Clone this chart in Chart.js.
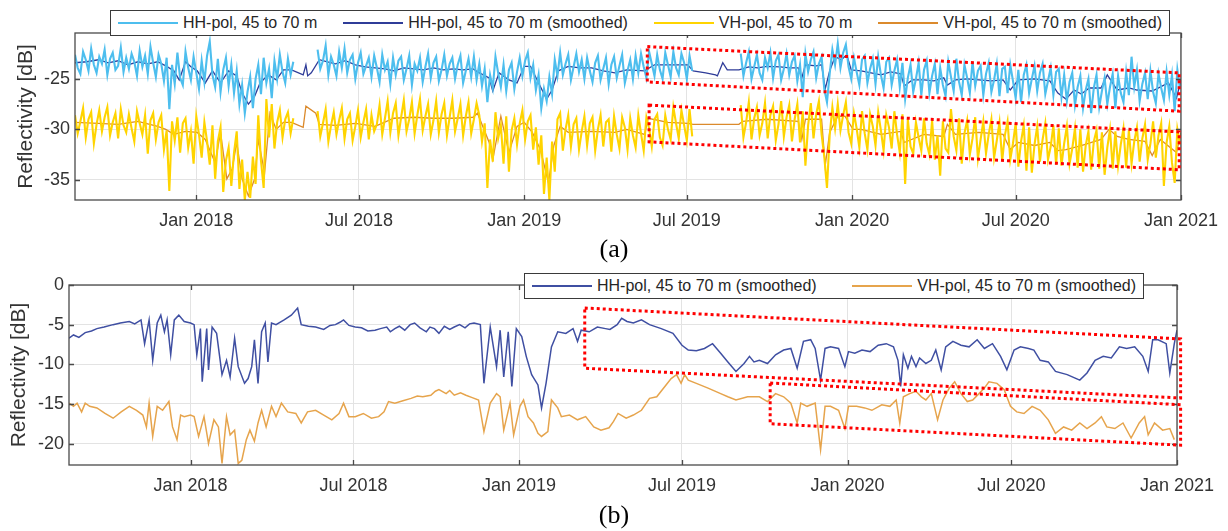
<!DOCTYPE html>
<html><head><meta charset="utf-8">
<script src="https://cdn.jsdelivr.net/npm/chart.js@4.4.1/dist/chart.umd.min.js"></script>
<style>
html,body{margin:0;padding:0;background:#fff;}
#wrap{position:relative;width:1228px;height:531px;overflow:hidden;font-family:"Liberation Sans",Arial,sans-serif;}
canvas{position:absolute;left:0;}
#ca{top:0;}
#cb{top:250px;}
.legend{position:absolute;display:flex;align-items:center;justify-content:space-between;border:1.3px solid #3a3a3a;background:#fff;box-sizing:border-box;padding:0 7px;font-size:16px;color:#262626;white-space:nowrap;}
.item{display:flex;align-items:center;}
.sw{display:inline-block;width:60px;height:2px;margin-right:5px;}
.cap{position:absolute;font-family:"Liberation Serif","Times New Roman",serif;font-size:26px;color:#000;transform:translate(-50%,-50%);}
</style>
</head>
<body>
<div id="wrap">
<canvas id="ca" width="1228" height="250"></canvas>
<canvas id="cb" width="1228" height="281"></canvas>
<div class="legend" id="lega" style="left:110px;top:10px;width:1060px;height:26px;"></div>
<div class="legend" id="legb" style="left:524px;top:273px;width:620px;height:26px;"></div>
<div class="cap" style="left:614px;top:249px;">(a)</div>
<div class="cap" style="left:614px;top:515px;">(b)</div>
</div>
<script>
// ---------- axis definitions (days since 1 Jan 2018) ----------
const dayMin = -135, dayMax = 1096;
const xTickDays = [0, 181, 365, 546, 730, 912, 1096];
const xTickLabels = ['Jan 2018', 'Jul 2018', 'Jan 2019', 'Jul 2019', 'Jan 2020', 'Jul 2020', 'Jan 2021'];
const yTicksA = [-35, -30, -25];
const yTicksB = [-20, -15, -10, -5, 0];
const seriesNamesA = ['HH-pol, 45 to 70 m', 'HH-pol, 45 to 70 m (smoothed)', 'VH-pol, 45 to 70 m', 'VH-pol, 45 to 70 m (smoothed)'];
const seriesNamesB = ['HH-pol, 45 to 70 m (smoothed)', 'VH-pol, 45 to 70 m (smoothed)'];

// ---------- panel (a) raw series: one sample every 3 days from day -135 ----------
const rawStartDay = -135, rawStepDays = 3;
const hhRawA = [
-22.6,-23.9,-24.5,-22.3,-23.1,-24.2,-22.0,-23.6,-24.4,-22.8,
-23.5,-22.1,-24.6,-23.0,-22.4,-24.1,-23.7,-21.9,-24.3,-22.9,
-24.0,-22.5,-23.3,-24.7,-22.2,-23.8,-22.7,-24.5,-21.8,-23.4,
-24.8,-22.6,-23.5,-25.2,-22.9,-28.0,-23.6,-25.5,-22.4,-24.9,
-25.6,-22.3,-23.9,-25.1,-22.8,-24.4,-26.0,-23.2,-25.3,-22.7,
-21.3,-24.6,-25.8,-23.0,-26.3,-24.1,-22.9,-25.7,-23.6,-26.4,
-24.2,-27.5,-25.6,-28.4,-26.3,-24.8,-27.9,-25.0,-23.6,-26.5,
-22.9,-25.4,-24.0,-26.9,-23.2,-25.0,-22.6,-24.3,-25.4,-23.0,
-24.6,-23.3,
null,null,null,null,null,null,null,null,
-22.1,-24.0,-23.2,-21.7,-24.6,-22.8,-23.6,-24.7,-22.3,-23.9,
-22.0,-24.4,-23.1,-22.6,-25.0,-23.4,-22.4,-24.5,-23.7,-22.9,
-24.8,-22.7,-23.9,-25.3,-22.6,-24.1,-23.3,-25.5,-22.9,-24.6,
-23.2,-22.8,-25.1,-24.0,-22.7,-25.6,-23.5,-24.2,-22.9,-25.3,
-23.8,-22.5,-24.9,-23.4,-22.8,-25.2,-24.1,-22.6,-24.7,-23.5,
-22.9,-25.0,-23.6,-22.7,-25.4,-24.2,-23.0,-24.8,-22.8,-25.1,
-23.5,-25.7,-24.0,-27.3,-24.6,-25.9,-22.8,-24.4,-25.8,-23.6,
-26.2,-24.1,-23.4,-26.0,-24.3,-22.9,-24.7,-23.2,-22.4,-24.9,
-23.6,-26.1,-24.6,-27.9,-26.0,-27.2,-24.8,-26.5,-23.1,-24.7,
-22.4,-24.6,-23.5,-22.6,-25.1,-23.8,-22.5,-24.3,-23.1,-25.0,
-22.9,-24.2,-25.3,-23.4,-22.7,-25.1,-24.0,-22.9,-25.5,-23.6,
-22.8,-24.9,-23.7,-22.6,-25.4,-24.2,-23.1,-25.0,-22.7,-24.4,
-22.5,-23.8,-24.9,-22.3,-23.5,-24.7,-22.6,-24.1,-25.0,-22.4,
-23.6,-24.8,-22.3,-23.9,-24.6,-22.5,-23.4,-25.0,-22.7,-24.2,
null,null,null,null,null,null,null,null,null,null,null,null,null,null,null,null,null,
-22.5,-24.7,-23.4,-22.3,-25.0,-23.8,-22.6,-24.4,-25.1,-22.9,
-23.9,-22.4,-24.9,-23.2,-22.6,-25.1,-24.0,-22.5,-24.6,-23.3,
-22.7,-25.2,-23.6,-26.8,-22.5,-24.3,-23.1,-22.3,-24.9,-23.5,
-22.8,-26.0,-27.3,-24.5,-22.1,-23.6,-21.5,-23.9,-22.4,-21.6,
-23.8,-25.0,-22.9,-24.3,-25.6,-23.1,-22.7,-25.4,-24.0,-23.0,
-25.5,-22.8,-24.6,-25.9,-23.3,-22.9,-25.6,-24.2,-23.1,-25.8,
-23.4,-27.0,-24.9,-23.6,-26.3,-25.0,-23.4,-26.6,-24.1,-23.2,
-26.4,-24.7,-23.5,-26.5,-23.9,-25.6,-26.7,-23.3,-24.8,-26.2,
-23.0,-25.3,-26.6,-23.6,-24.9,-26.4,-23.3,-25.7,-24.2,-23.7,
-26.6,-24.5,-23.4,-26.3,-25.1,-23.5,-26.7,-24.0,-23.8,-26.4,
-23.6,-25.2,-26.9,-24.1,-27.3,-24.6,-23.6,-26.4,-25.0,-23.7,
-26.2,-24.4,-23.5,-26.5,-25.2,-23.9,-26.6,-24.3,-24.0,-26.8,
-24.6,-27.2,-25.3,-24.4,-27.6,-25.8,-24.7,-27.9,-26.1,-25.0,
-28.4,-25.9,-24.6,-27.8,-26.2,-24.9,-27.5,-25.8,-24.5,-27.9,
-24.7,-26.4,-27.3,-24.3,-26.6,-22.8,-25.8,-24.1,-27.2,-25.5,
-24.4,-27.0,-24.2,-26.3,-27.4,-24.5,-25.9,-27.1,-24.3,-26.6,
-24.6,-28.2,-24.1,-26.0
];
const vhRawA = [
-28.6,-30.4,-29.2,-27.9,-30.8,-29.0,-28.3,-31.4,-29.5,-28.1,
-30.2,-28.8,-27.8,-30.6,-29.3,-28.4,-30.9,-28.0,-29.6,-30.3,
-28.5,-29.9,-31.2,-28.2,-29.4,-30.5,-28.6,-32.4,-29.1,-28.4,
-31.0,-29.3,-28.6,-32.0,-30.1,-36.1,-29.2,-31.1,-28.8,-32.3,
-29.4,-28.9,-31.8,-30.2,-33.4,-28.7,-30.5,-32.8,-29.3,-31.2,
-33.5,-29.6,-34.9,-31.2,-29.8,-36.2,-33.1,-31.8,-35.6,-32.3,
-30.2,-35.9,-33.0,-37.0,-34.2,-36.8,-32.7,-35.4,-28.6,-33.1,
-35.8,-27.0,-30.8,-27.5,-31.9,-29.3,-28.1,-30.8,-29.0,-28.3,
-30.4,-28.9,
null,null,null,null,null,null,null,null,
-28.2,-30.7,-29.4,-28.0,-31.2,-29.6,-28.3,-30.5,-29.1,-27.9,
-30.9,-29.0,-28.4,-31.1,-29.7,-28.1,-30.8,-29.3,-28.0,-31.0,
-28.6,-30.2,-29.5,-27.6,-30.5,-28.9,-27.2,-30.3,-28.4,-27.4,
-30.6,-28.8,-27.1,-30.2,-29.0,-27.3,-30.4,-28.6,-27.0,-30.1,
-28.7,-27.5,-30.5,-29.1,-27.2,-30.3,-28.5,-27.4,-30.6,-28.8,
-27.1,-30.2,-28.9,-27.5,-30.6,-28.7,-27.3,-30.4,-29.0,-27.4,
-28.6,-31.2,-29.4,-35.8,-31.0,-33.2,-28.3,-30.9,-29.6,-33.4,
-28.7,-34.2,-30.1,-28.9,-31.5,-29.4,-28.1,-31.0,-29.2,-28.6,
-32.0,-29.8,-33.5,-30.6,-36.4,-32.8,-37.0,-31.2,-34.2,-29.0,
-28.4,-32.1,-30.0,-28.6,-31.7,-29.5,-28.9,-32.0,-30.2,-28.7,
-31.6,-29.4,-28.8,-32.1,-30.0,-28.6,-31.7,-29.3,-29.0,-32.2,
-28.7,-30.5,-31.9,-28.8,-29.8,-32.0,-28.9,-30.6,-31.8,-28.6,
-30.4,-32.1,-28.8,-29.9,-31.7,-29.0,-28.5,-30.8,-31.6,-28.6,
-30.0,-31.0,-27.8,-29.4,-30.9,-28.1,-29.6,-31.1,-28.0,-30.7,
null,null,null,null,null,null,null,null,null,null,null,null,null,null,null,null,null,
-27.6,-30.8,-29.3,-27.3,-31.0,-28.9,-27.8,-30.6,-29.4,-27.4,
-30.9,-28.6,-27.7,-31.1,-29.5,-27.2,-30.7,-28.8,-27.6,-31.2,
-29.0,-27.5,-31.3,-28.2,-33.6,-29.6,-27.4,-30.9,-28.5,-27.2,
-30.5,-32.7,-35.8,-30.6,-27.8,-29.9,-27.5,-30.1,-28.6,-27.3,
-30.3,-31.4,-28.4,-29.9,-31.8,-28.2,-30.4,-32.0,-28.5,-29.7,
-31.6,-28.3,-30.1,-32.1,-28.6,-29.8,-31.9,-28.2,-30.5,-32.3,
-28.5,-35.4,-29.0,-31.7,-32.4,-29.3,-30.8,-32.1,-28.9,-31.4,
-32.5,-29.1,-33.0,-30.6,-34.6,-29.2,-31.9,-32.3,-28.0,-30.7,
-32.1,-28.9,-33.4,-30.4,-29.1,-32.5,-30.9,-28.8,-32.9,-31.0,
-29.2,-32.4,-30.5,-29.0,-32.8,-31.1,-29.3,-33.1,-30.6,-29.2,
-33.0,-31.4,-29.4,-33.7,-31.2,-29.6,-34.1,-29.8,-34.3,-31.5,
-29.7,-33.2,-31.0,-29.4,-33.0,-31.7,-29.6,-33.5,-29.9,-33.6,
-31.4,-29.7,-33.4,-31.9,-29.9,-33.8,-30.0,-34.2,-31.6,-30.2,
-34.0,-31.2,-30.1,-33.9,-30.3,-34.5,-31.8,-30.0,-33.9,-30.2,
-33.6,-31.5,-29.9,-33.8,-30.1,-33.4,-31.2,-29.8,-33.2,-30.9,
-29.5,-33.0,-31.4,-29.2,-32.8,-30.6,-29.4,-35.6,-31.3,-29.7,
-33.3,-35.3,-30.0,-31.5
];

// ---------- panel (a) smoothed series ----------
const hhSmoothDaysA = [-135,-122,-109,-98,-87,-76,-65,-54,-43,-34,-25,-19,-12,-6,1,10,18,27,36,45,51,58,65,71,80,89,97,106,119,122,124,128,137,146,155,166,177,188,199,210,220,231,242,253,264,275,286,297,308,313,326,330,337,348,357,365,372,381,390,396,403,414,427,440,453,466,479,499,510,525,547,553,567,578,580,586,591,604,615,625,635,650,660,670,674,678,690,696,700,705,711,718,724,729,740,751,762,773,784,788,797,810,821,832,836,845,858,871,885,898,906,915,933,950,959,968,977,985,994,1007,1014,1025,1038,1047,1064,1082,1091,1096];
const hhSmoothA = [-23.4,-23.3,-23.1,-23.4,-23.2,-23.6,-23.3,-23.5,-23.3,-23.7,-24.2,-25.1,-23.3,-23.8,-24.2,-25.4,-24.2,-25.4,-24.2,-24.7,-26.4,-27.5,-26.7,-25.4,-24.6,-25.1,-24.1,-24.1,-24.6,-23.6,-24.7,-24.4,-23.1,-23.3,-23.5,-23.2,-23.6,-23.8,-23.9,-24.0,-24.2,-23.9,-24.0,-24.1,-23.9,-24.1,-24.0,-24.1,-24.0,-24.3,-24.9,-26.2,-24.4,-25.1,-25.4,-23.75,-23.75,-25.4,-27.0,-26.1,-24.2,-23.75,-23.9,-23.9,-24.2,-24.4,-24.1,-24.2,-23.6,-23.6,-23.6,-24.2,-24.4,-24.6,-24.7,-23.4,-24.1,-24.1,-23.8,-23.9,-23.75,-23.8,-23.9,-23.9,-24.9,-23.6,-23.7,-23.6,-26.0,-24.2,-22.8,-23.1,-22.6,-24.1,-24.2,-24.4,-24.6,-24.3,-24.5,-25.7,-25.1,-25.1,-25.2,-24.9,-25.6,-25.1,-25.0,-25.1,-25.2,-25.1,-26.1,-25.1,-25.0,-25.2,-26.4,-27.0,-26.1,-26.5,-25.9,-25.9,-24.6,-26.1,-25.9,-26.1,-26.2,-25.4,-26.9,-25.1];
const vhSmoothDaysA = [-135,-109,-87,-65,-43,-34,-25,-12,1,10,21,27,34,40,45,51,58,65,69,76,82,89,97,106,119,122,133,137,155,177,199,220,242,264,286,308,313,326,330,339,348,357,365,374,383,392,398,405,414,440,466,479,499,503,525,547,553,580,604,608,635,670,674,678,696,700,705,714,722,731,740,762,784,788,810,832,836,845,871,898,906,915,933,950,959,968,985,1007,1016,1025,1038,1056,1064,1073,1091,1096];
const vhSmoothA = [-29.3,-29.4,-29.5,-29.2,-29.7,-30.0,-30.5,-30.2,-30.3,-31.0,-33.3,-30.3,-34.9,-33.9,-31.3,-34.9,-36.6,-34.9,-31.0,-34.3,-28.4,-30.0,-29.3,-29.3,-29.8,-27.7,-28.4,-29.5,-29.6,-29.4,-29.7,-28.9,-28.8,-28.9,-28.9,-28.8,-28.4,-31.3,-33.0,-28.7,-32.3,-29.7,-29.3,-30.3,-32.0,-35.3,-31.6,-29.7,-30.3,-30.2,-30.3,-30.0,-30.5,-28.9,-29.3,-29.4,-29.5,-29.5,-29.5,-29.2,-29.0,-29.2,-31.0,-29.0,-29.0,-33.6,-30.3,-28.7,-28.7,-30.0,-30.0,-30.5,-30.2,-31.3,-30.5,-30.7,-29.5,-30.5,-30.3,-30.5,-32.0,-31.3,-31.6,-31.3,-32.1,-32.0,-31.6,-31.0,-30.0,-30.7,-31.0,-31.2,-32.6,-31.0,-32.3,-30.3];

// ---------- panel (b) smoothed series ----------
const hhDaysB = [-135,-130,-124,-117,-110,-104,-96,-86,-78,-68,-62,-55,-51,-46,-42,-37,-33,-29,-26,-22,-18,-13,-7,0,4,7,11,13,18,20,24,29,35,40,44,49,53,60,64,68,71,75,79,83,86,90,95,104,112,119,123,131,139,148,155,161,166,170,176,183,190,197,205,211,218,222,227,232,238,244,249,255,262,266,271,276,282,288,293,299,305,310,315,322,326,333,340,344,348,353,357,362,368,373,379,386,390,395,401,408,417,425,430,434,443,452,461,466,474,479,485,492,501,510,523,536,546,553,562,571,580,589,597,606,615,621,626,632,641,650,659,667,674,681,689,694,700,705,711,720,727,731,738,746,755,764,773,781,786,789,792,797,801,806,810,817,823,828,834,839,847,856,865,874,882,891,900,907,915,922,931,937,944,953,961,974,988,996,1005,1014,1023,1032,1040,1049,1058,1064,1069,1075,1084,1088,1093,1096];
const hhB = [-6.7,-6.3,-6.6,-6.0,-5.8,-5.5,-5.3,-5.0,-4.8,-4.6,-4.9,-4.4,-7.4,-4.4,-9.5,-4.8,-3.8,-5.9,-4.4,-8.8,-4.4,-3.8,-4.6,-4.8,-5.0,-8.8,-5.5,-12.2,-5.5,-10.7,-5.3,-6.1,-11.3,-9.5,-11.6,-6.7,-10.3,-12.4,-11.8,-10.3,-6.9,-12.4,-5.9,-4.8,-9.7,-4.8,-5.0,-4.4,-3.8,-2.9,-5.0,-5.2,-5.3,-5.6,-5.1,-5.0,-4.7,-4.4,-5.1,-5.3,-5.4,-5.8,-5.7,-5.5,-5.3,-5.9,-5.5,-5.2,-5.7,-5.0,-4.8,-5.4,-5.9,-5.3,-5.5,-6.1,-5.2,-5.6,-5.3,-5.0,-5.4,-4.9,-4.8,-5.0,-12.4,-5.3,-10.3,-5.7,-11.6,-5.9,-12.8,-5.5,-6.5,-9.0,-11.3,-12.6,-15.5,-12.4,-7.8,-5.9,-6.1,-5.5,-7.1,-5.7,-5.9,-5.3,-5.5,-5.6,-5.0,-4.2,-4.6,-4.8,-4.4,-5.0,-5.5,-6.1,-7.6,-8.2,-8.3,-8.0,-7.4,-8.6,-9.7,-10.9,-9.9,-9.0,-9.7,-9.5,-9.9,-8.8,-8.2,-8.0,-10.5,-7.1,-6.9,-8.0,-12.0,-8.0,-7.8,-8.0,-10.3,-8.4,-8.6,-8.2,-8.4,-7.6,-7.4,-7.8,-9.5,-12.8,-8.8,-10.5,-9.0,-10.3,-9.2,-9.9,-9.5,-8.2,-10.7,-7.8,-7.1,-7.6,-7.8,-6.9,-8.0,-7.4,-9.0,-10.7,-8.2,-7.8,-8.0,-8.2,-9.5,-9.7,-10.9,-11.3,-12.0,-11.1,-9.5,-9.0,-9.2,-7.8,-8.0,-7.8,-9.0,-10.9,-6.9,-6.9,-7.4,-11.1,-7.4,-5.7];
const vhDaysB = [-135,-130,-126,-121,-117,-112,-104,-95,-86,-77,-68,-60,-53,-49,-46,-42,-37,-31,-24,-20,-15,-11,-7,0,4,9,15,20,26,31,35,40,44,49,53,57,62,66,71,75,79,84,90,95,101,108,117,123,130,139,148,157,165,170,176,183,192,201,209,215,220,227,236,245,252,258,267,272,276,284,288,293,300,306,313,320,326,333,340,344,348,355,359,366,370,375,381,386,390,397,401,408,412,421,430,439,448,456,465,470,475,484,492,501,510,518,527,534,540,545,549,553,562,575,589,597,606,619,632,641,650,659,667,674,678,685,694,700,705,711,720,727,731,740,749,757,768,777,784,788,792,799,806,812,817,823,830,836,843,849,856,863,869,876,882,887,896,904,911,918,926,935,944,953,961,970,979,988,996,1005,1012,1018,1027,1036,1045,1054,1060,1064,1071,1080,1088,1093];
const vhB = [-14.9,-15.3,-14.9,-16.0,-14.9,-15.3,-15.5,-16.2,-16.8,-16.0,-15.3,-15.8,-16.4,-17.9,-14.9,-19.1,-15.3,-15.8,-14.7,-17.9,-19.5,-16.4,-16.6,-16.4,-16.6,-19.1,-16.6,-20.0,-17.0,-17.9,-22.5,-16.6,-18.9,-18.3,-22.5,-22.1,-19.5,-18.3,-19.7,-17.4,-15.8,-17.9,-15.3,-16.6,-14.9,-16.0,-16.2,-17.4,-16.0,-15.8,-16.4,-17.0,-16.2,-14.9,-16.6,-16.6,-16.2,-16.8,-16.6,-16.0,-14.7,-14.9,-14.6,-14.3,-14.0,-14.1,-13.9,-13.4,-13.2,-13.7,-13.3,-13.9,-13.6,-13.9,-14.2,-14.5,-18.5,-14.9,-13.7,-14.1,-18.3,-14.9,-18.9,-15.3,-14.5,-16.6,-17.4,-18.7,-19.1,-18.5,-14.5,-15.5,-16.6,-16.4,-17.0,-16.6,-17.9,-18.3,-18.0,-17.2,-16.2,-16.8,-16.4,-15.8,-14.3,-14.1,-12.8,-11.8,-11.3,-12.4,-11.3,-12.0,-12.4,-13.0,-13.7,-14.1,-14.5,-14.1,-14.1,-14.7,-13.7,-14.1,-14.9,-17.4,-14.9,-15.3,-14.9,-20.8,-15.3,-15.3,-15.8,-18.1,-15.3,-15.3,-15.5,-15.8,-15.1,-15.3,-14.5,-17.4,-14.1,-13.7,-13.4,-14.1,-14.5,-13.7,-17.0,-14.5,-13.0,-12.2,-13.7,-14.7,-14.5,-13.7,-13.0,-12.2,-12.4,-13.2,-15.3,-16.0,-16.2,-15.3,-15.8,-17.0,-18.7,-17.9,-18.3,-17.4,-18.1,-17.4,-16.6,-17.9,-18.1,-17.4,-19.3,-17.4,-16.6,-18.9,-17.4,-18.3,-18.1,-19.5];

// ---------- highlighted trend regions (day, dB corners) ----------
const boxHHa = [[502,-21.8],[1094,-24.4],[1094,-28.2],[502,-25.3]];
const boxVHa = [[504,-27.6],[1094,-30.25],[1094,-34.0],[504,-31.24]];
const boxHHb = [[438,-2.9],[1100,-6.8],[1100,-14.25],[438,-10.5]];
const boxVHb = [[644,-12.36],[1100,-15.1],[1100,-20.2],[644,-17.5]];

// ---------- styling ----------
const FONT = '"Liberation Sans", Arial, sans-serif';
const tickColor = '#333333';
const gridColor = '#e3e3e3';
const colHHraw = '#4dbeee', colHHsm = '#2f3c98', colVHraw = '#ffd400', colVHsm = '#db8a2c';
const colHHb = '#3f4fa2', colVHb = '#e6a44c';

function pts(days, vals) { return days.map((d, i) => ({x: d, y: vals[i]})); }
function rawPts(vals) { return vals.map((v, i) => ({x: rawStartDay + rawStepDays * i, y: v})); }

const framePlugin = {
  id: 'frame',
  afterDatasetsDraw(chart, args, opts) {
    const {ctx, chartArea: a, scales: {x, y}} = chart;
    ctx.save();
    ctx.strokeStyle = '#4a4a4a';
    ctx.lineWidth = 1.3;
    ctx.strokeRect(a.left, a.top, a.right - a.left, a.bottom - a.top);
    ctx.beginPath();
    xTickDays.forEach(d => {
      const px = Math.round(x.getPixelForValue(d)) + 0.5;
      ctx.moveTo(px, a.bottom); ctx.lineTo(px, a.bottom - 5);
      ctx.moveTo(px, a.top); ctx.lineTo(px, a.top + 5);
    });
    opts.yTicks.forEach(v => {
      const py = Math.round(y.getPixelForValue(v)) + 0.5;
      ctx.moveTo(a.left, py); ctx.lineTo(a.left + 5, py);
      ctx.moveTo(a.right, py); ctx.lineTo(a.right - 5, py);
    });
    ctx.stroke();
    ctx.strokeStyle = '#ff0000';
    ctx.lineWidth = 3;
    ctx.setLineDash([3, 3]);
    opts.boxes.forEach(b => {
      ctx.beginPath();
      b.forEach(([d, v], i) => {
        const px = x.getPixelForValue(d), py = y.getPixelForValue(v);
        if (i) ctx.lineTo(px, py); else ctx.moveTo(px, py);
      });
      ctx.closePath();
      ctx.stroke();
    });
    ctx.restore();
  }
};

function makeScales(o) {
  return {
    x: {
      type: 'linear', min: dayMin, max: dayMax,
      afterBuildTicks: s => { s.ticks = xTickDays.map(v => ({value: v})); },
      afterFit: s => { s.height = o.xh; },
      grid: {color: gridColor, drawTicks: false, lineWidth: 1},
      border: {display: false},
      ticks: {autoSkip: false, maxRotation: 0, padding: 10, color: tickColor, font: {family: FONT, size: 18},
        callback: v => { const i = xTickDays.indexOf(v); return i >= 0 ? xTickLabels[i] : ''; }}
    },
    y: {
      type: 'linear', min: o.ymin, max: o.ymax,
      afterBuildTicks: s => { s.ticks = o.yt.map(v => ({value: v})); },
      afterFit: s => { s.width = o.yw; },
      grid: {color: gridColor, drawTicks: false, lineWidth: 1},
      border: {display: false},
      ticks: {padding: 5, color: tickColor, font: {family: FONT, size: 18}, callback: v => String(v)},
      title: {display: true, text: 'Reflectivity [dB]', color: tickColor, font: {family: FONT, size: 21}, padding: {top: o.tp, bottom: 0}}
    }
  };
}

function line(label, data, color, w) {
  return {label, data, borderColor: color, backgroundColor: color, borderWidth: w, pointRadius: 0, tension: 0, spanGaps: false};
}

const chartA = new Chart(document.getElementById('ca'), {
  type: 'line',
  data: {datasets: [
    line(seriesNamesA[0], rawPts(hhRawA), colHHraw, 2.1),
    line(seriesNamesA[1], pts(hhSmoothDaysA, hhSmoothA), colHHsm, 1.3),
    line(seriesNamesA[2], rawPts(vhRawA), colVHraw, 2.1),
    line(seriesNamesA[3], pts(vhSmoothDaysA, vhSmoothA), colVHsm, 1.3)
  ]},
  options: {
    responsive: false, animation: false, events: [],
    layout: {padding: {left: 0, right: 46, top: 33, bottom: 0}},
    plugins: {legend: {display: false}, tooltip: {enabled: false},
      frame: {yTicks: yTicksA, boxes: [boxHHa, boxVHa]}},
    scales: makeScales({ymin: -37, ymax: -20.45, yt: yTicksA, yw: 75, xh: 50, tp: 14})
  },
  plugins: [framePlugin]
});

const chartB = new Chart(document.getElementById('cb'), {
  type: 'line',
  data: {datasets: [
    line(seriesNamesB[0], pts(hhDaysB, hhB), colHHb, 1.5),
    line(seriesNamesB[1], pts(vhDaysB, vhB), colVHb, 1.5)
  ]},
  options: {
    responsive: false, animation: false, events: [],
    layout: {padding: {left: 0, right: 51, top: 35, bottom: 0}},
    plugins: {legend: {display: false}, tooltip: {enabled: false},
      frame: {yTicks: yTicksB, boxes: [boxHHb, boxVHb]}},
    scales: makeScales({ymin: -22.7, ymax: 0, yt: yTicksB, yw: 69, xh: 66, tp: 7})
  },
  plugins: [framePlugin]
});

function buildLegend(el, chart) {
  chart.data.datasets.forEach(ds => {
    const it = document.createElement('div');
    it.className = 'item';
    const sw = document.createElement('span');
    sw.className = 'sw';
    sw.style.background = ds.borderColor;
    const tx = document.createElement('span');
    tx.textContent = ds.label;
    it.appendChild(sw); it.appendChild(tx);
    el.appendChild(it);
  });
}
buildLegend(document.getElementById('lega'), chartA);
buildLegend(document.getElementById('legb'), chartB);
</script>
</body></html>
